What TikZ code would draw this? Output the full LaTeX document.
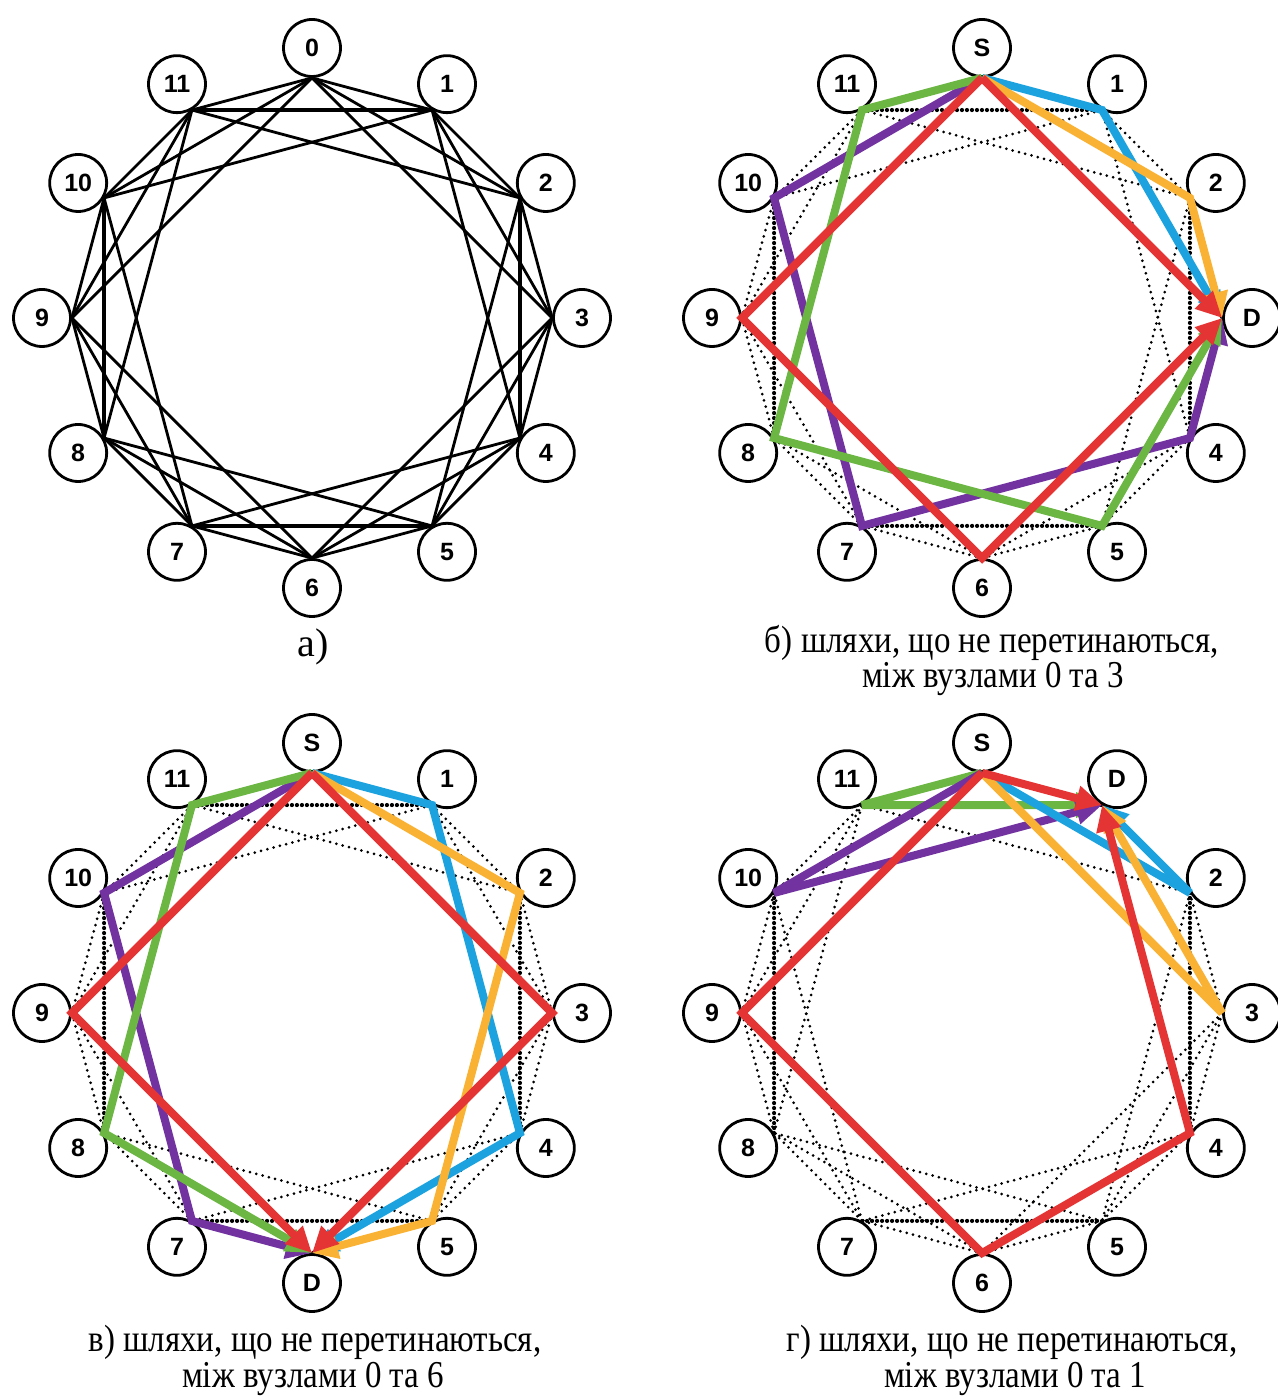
\documentclass[tikz,border=0pt]{standalone}
\usepackage{fontspec}
\setmainfont{Liberation Serif}
\newfontfamily\vertfont{Liberation Sans}
\usepackage{graphicx}
\usepackage{tikz}
\usetikzlibrary{arrows.meta}
\usepackage{xcolor}

\definecolor{pblue}{RGB}{28,162,222}
\definecolor{porange}{RGB}{250,178,52}
\definecolor{pred}{RGB}{228,52,52}
\definecolor{pgreen}{RGB}{108,182,68}
\definecolor{ppurple}{RGB}{114,50,160}

\newcommand{\tallline}[1]{\scalebox{1}[1.15]{#1}}

\begin{document}
\begin{tikzpicture}[x=1pt,y=1pt,
  vert/.style={circle,draw,line width=2.8pt,fill=white,minimum size=57pt,inner sep=0pt,
    font=\vertfont\bfseries\fontsize{25}{25}\selectfont},
  link/.style={line width=2.8pt},
  heavylink/.style={line width=4.2pt},
  dotlink/.style={line width=3pt,line cap=round,dash pattern=on 0pt off 6.5pt},
  heavydot/.style={line width=4.2pt,line cap=round,dash pattern=on 0pt off 5pt},
  route/.style={line width=8pt,miter limit=3,-{Triangle[length=26pt,width=24pt]}},
  capa/.style={anchor=base,font=\fontsize{40}{40}\selectfont},
  capb/.style={anchor=base,font=\fontsize{33}{33}\selectfont}]

  \useasboundingbox (0,0) rectangle (1277,1399);

  % graph a)
  \begin{scope}[shift={(312,1081)}]
    \foreach \k in {0,...,11}
      \node[vert] (a\k) at ({90-30*\k}:270) {\k};
    \foreach \k in {0,...,11}
      \foreach \j in {1,2,3} {
        \pgfmathtruncatemacro\m{mod(\k+\j,12)}
        \pgfmathtruncatemacro\p{mod(630-30*\k,360)}
        \pgfmathtruncatemacro\q{mod(630-30*\m,360)}
        \pgfmathtruncatemacro\h{and(\j==2,mod(\k,3)==2)}
        \ifnum\h=1 \def\lk{heavylink}\else\def\lk{link}\fi
        \draw[\lk] (a\k.\p) -- (a\m.\q);
      }
  \end{scope}

  % dotted graphs b), c), d)
  \foreach \pn/\cx/\cy/\dst in {b/982/1081/3, c/312/386/6, d/982/386/1} {
    \begin{scope}[shift={(\cx,\cy)}]
      \foreach \k in {0,...,11} {
        \ifnum\k=0 \def\lbl{S}\else\ifnum\k=\dst\relax \def\lbl{D}\else\let\lbl\k\fi\fi
        \node[vert] (\pn\k) at ({90-30*\k}:270) {\lbl};
      }
      \foreach \k in {0,...,11}
        \foreach \j in {1,2,3} {
          \pgfmathtruncatemacro\m{mod(\k+\j,12)}
          \pgfmathtruncatemacro\p{mod(630-30*\k,360)}
          \pgfmathtruncatemacro\q{mod(630-30*\m,360)}
          \pgfmathtruncatemacro\h{and(\j==2,mod(\k,3)==2)}
          \ifnum\h=1 \def\lk{heavydot}\else\def\lk{dotlink}\fi
          \draw[\lk] (\pn\k.\p) -- (\pn\m.\q);
        }
    \end{scope}
  }

  % paths 0 -> 3
  \draw[route,ppurple] (b0.270) -- (b10.330) -- (b7.60) -- (b4.150) -- (b3.180);
  \draw[route,pgreen] (b0.270) -- (b11.300) -- (b8.30) -- (b5.120) -- (b3.180);
  \draw[route,pblue] (b0.270) -- (b1.240) -- (b3.180);
  \draw[route,porange] (b0.270) -- (b2.210) -- (b3.180);
  \draw[route,pred] (b0.270) -- (b9.0) -- (b6.90) -- (b3.180);
  \draw[route,pred] (b0.270) -- (b3.180);

  % paths 0 -> 6
  \draw[route,ppurple] (c0.270) -- (c10.330) -- (c7.60) -- (c6.90);
  \draw[route,pgreen] (c0.270) -- (c11.300) -- (c8.30) -- (c6.90);
  \draw[route,pblue] (c0.270) -- (c1.240) -- (c4.150) -- (c6.90);
  \draw[route,porange] (c0.270) -- (c2.210) -- (c5.120) -- (c6.90);
  \draw[route,pred] (c0.270) -- (c3.180) -- (c6.90);
  \draw[route,pred] (c0.270) -- (c9.0) -- (c6.90);

  % paths 0 -> 1
  \draw[route,pgreen] (d0.270) -- (d11.300) -- (d1.240);
  \draw[route,ppurple] (d0.270) -- (d10.330) -- (d1.240);
  \draw[route,pblue] (d0.270) -- (d2.210) -- (d1.240);
  \draw[route,porange] (d0.270) -- (d3.180) -- (d1.240);
  \draw[route,pred] (d0.270) -- (d1.240);
  \draw[route,pred] (d0.270) -- (d9.0) -- (d6.90) -- (d4.150) -- (d1.240);

  % captions
  \node[capa] (capa) at (313,742) {а)};
  \node[capb] (capb1) at (992,746) {\tallline{б) шляхи, що не перетинаються,}};
  \node[capb] (capb2) at (993,711) {\tallline{між вузлами 0 та 3}};
  \node[capb] (capc1) at (315,47) {\tallline{в) шляхи, що не перетинаються,}};
  \node[capb] (capc2) at (313,11) {\tallline{між вузлами 0 та 6}};
  \node[capb] (capd1) at (1012,47) {\tallline{г) шляхи, що не перетинаються,}};
  \node[capb] (capd2) at (1015,11) {\tallline{між вузлами 0 та 1}};

\end{tikzpicture}
\end{document}
